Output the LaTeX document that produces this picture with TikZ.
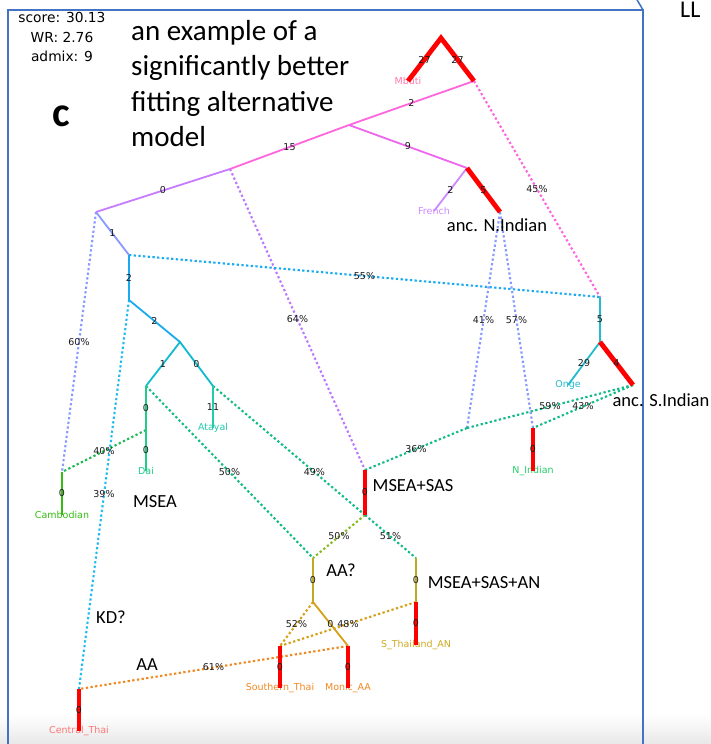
\documentclass[tikz,border=0pt]{standalone}
\usepackage{fontspec}
\usepackage{tikz}
\usetikzlibrary{arrows}
\newfontfamily\lblfont{DejaVu Sans}
\newfontfamily\notefont{Carlito}
\definecolor{cFrame}{HTML}{4472C4}
\definecolor{cPink}{HTML}{FF66DD}
\definecolor{cPurple}{HTML}{C77BFF}
\definecolor{cMagenta}{HTML}{EE66EE}
\definecolor{cFrench}{HTML}{CC88FF}
\definecolor{cLilac}{HTML}{BB77FF}
\definecolor{cPeri}{HTML}{8899FF}
\definecolor{cSky}{HTML}{1AAAF0}
\definecolor{cSkyTwo}{HTML}{22BBEE}
\definecolor{cTeal}{HTML}{11BBCC}
\definecolor{cAtayal}{HTML}{22CCAA}
\definecolor{cDai}{HTML}{22CC88}
\definecolor{cCamb}{HTML}{33BB11}
\definecolor{cGreen}{HTML}{22BB55}
\definecolor{cSea}{HTML}{11BB88}
\definecolor{cLime}{HTML}{88BB22}
\definecolor{cOlive}{HTML}{BBAA22}
\definecolor{cGold}{HTML}{D4A017}
\definecolor{cOrange}{HTML}{EE8822}
\definecolor{cMbuti}{HTML}{FF77AA}
\definecolor{cNIndian}{HTML}{22CC66}
\definecolor{cSThai}{HTML}{CCAA22}
\definecolor{cCentral}{HTML}{FF7777}
\definecolor{cOnge}{HTML}{22BBCC}

\begin{document}
\begin{tikzpicture}[x=1pt,y=-1pt,line join=miter,
                    tree/.style={line width=1.8pt},
                    drift/.style={line width=4.8pt,draw=red},
                    mix/.style={line width=2.1pt,dash pattern=on 2.3pt off 2.4pt}]
  \tikzstyle{num}=[font=\lblfont\fontsize{9.5}{10}\selectfont,text=black!90,inner sep=0pt]
  \tikzstyle{pop}=[font=\lblfont\fontsize{9.5}{10}\selectfont,inner sep=0pt]
  \tikzstyle{note}=[font=\notefont\fontsize{18.5}{22}\selectfont,inner sep=0pt]

  \useasboundingbox (0,0) rectangle (711,744);
  \shade[top color=white,bottom color=black!9] (0,714) rectangle (711,744);
  \draw[cFrame,line width=1.5pt] (8,750) -- (8,10) -- (643,10) -- (643,750);
  \draw[cFrame,line width=1.5pt] (636,-2) -- (643,10);

  \coordinate (R)   at (441,38);
  \coordinate (A)   at (474,81);
  \coordinate (B)   at (349,125);
  \coordinate (P)   at (230,169);
  \coordinate (C)   at (96,212);
  \coordinate (D)   at (467,168);
  \coordinate (NI)  at (500,212);
  \coordinate (E)   at (129,255);
  \coordinate (F)   at (129,300);
  \coordinate (G)   at (180,342);
  \coordinate (H)   at (146,386);
  \coordinate (I)   at (213,386);
  \coordinate (Hm)  at (146,430);
  \coordinate (Cb)  at (62,472);
  \coordinate (S)   at (600,297);
  \coordinate (J)   at (600,342);
  \coordinate (SI)  at (633,385);
  \coordinate (X)   at (467,428);
  \coordinate (NIt) at (533,428);
  \coordinate (MSt) at (365,470);
  \coordinate (MSb) at (365,515);
  \coordinate (AQ)  at (313,558);
  \coordinate (Q)   at (313,602);
  \coordinate (AN)  at (416,558);
  \coordinate (ANm) at (416,602);
  \coordinate (ST)  at (280,646);
  \coordinate (Mo)  at (348,646);
  \coordinate (CT)  at (79,689);

  \node[pop,text=cMbuti]   (mbuti)     at (408,81)  {Mbuti};
  \node[pop,text=cFrench]  (french)    at (434,211) {French};
  \node[pop,text=cAtayal]  (atayal)    at (213,428) {Atayal};
  \node[pop,text=cDai]     (dai)       at (146,471) {Dai};
  \node[pop,text=cCamb]    (cambodian) at (62,515)  {Cambodian};
  \node[pop,text=cOnge]    (onge)      at (568,385) {Onge};
  \node[pop,text=cNIndian] (nindian)   at (533,471) {N\_Indian};
  \node[pop,text=cSThai]   (sthai)     at (416,645) {S\_Thailand\_AN};
  \node[pop,text=cOrange]  (southern)  at (280,688) {Southern\_Thai};
  \node[pop,text=cOrange]  (monic)     at (348,688) {Monic\_AA};
  \node[pop,text=cCentral] (central)   at (79,731)  {Central\_Thai};

  \draw[mix,cPink]   (A)   -- node[num] {45\%} (S);
  \draw[mix,cLilac]  (P)   -- node[num] {64\%} (MSt);
  \draw[mix,cPeri]   (C)   -- node[num] {60\%} (Cb);
  \draw[mix,cSky]    (E)   -- node[num] {55\%} (S);
  \draw[mix,cSkyTwo] (F)   -- node[num] {39\%} (CT);
  \draw[mix,cGreen]  (Hm)  -- node[num] {40\%} (Cb);
  \draw[mix,cSea]    (H)   -- node[num] {50\%} (AQ);
  \draw[mix,cSea]    (I)   -- node[num,pos=0.667] {49\%} (MSb);
  \draw[mix,cPeri]   (NI)  -- node[num] {41\%} (X);
  \draw[mix,cPeri]   (NI)  -- node[num] {57\%} (NIt);
  \draw[mix,cSea]    (SI)  -- node[num] {59\%} (X);
  \draw[mix,cSea]    (SI)  -- node[num] {43\%} (NIt);
  \draw[mix,cSea]    (X)   -- node[num] {36\%} (MSt);
  \draw[mix,cLime]   (MSb) -- node[num] {50\%} (AQ);
  \draw[mix,cSea]    (MSb) -- node[num] {51\%} (AN);
  \draw[mix,cGold]   (Q)   -- node[num] {52\%} (ST);
  \draw[mix,cGold]   (ANm) -- node[num] {48\%} (ST);
  \draw[mix,cOrange] (Mo)  -- node[num] {61\%} (CT);

  \draw[tree,cPink]    (A) -- node[num] {2} (B) -- node[num] {15} (P);
  \draw[tree,cPurple]  (P) -- node[num] {0} (C);
  \draw[tree,cMagenta] (B) -- node[num] {9} (D);
  \draw[tree,cFrench]  (D) -- node[num] {2} (french.center);
  \draw[tree,cPeri]    (C) -- node[num] {1} (E);
  \draw[tree,cSky]     (E) -- node[num] {2} (F) -- node[num] {2} (G);
  \draw[tree,cTeal]    (H) -- node[num] {1} (G) -- node[num] {0} (I);
  \draw[tree,cAtayal]  (I) -- node[num] {11} (atayal.center);
  \draw[tree,cDai]     (H) -- node[num] {0} (Hm) -- node[num] {0} (dai.center);
  \draw[tree,cCamb]    (Cb) -- node[num] {0} (cambodian.center);
  \draw[tree,cOnge]    (S) -- node[num] {5} (J) -- node[num] {29} (onge.center);
  \draw[tree,cOlive]   (AQ) -- node[num] {0} (Q);
  \draw[tree,cOlive]   (AN) -- node[num] {0} (ANm);
  \draw[tree,cGold]    (Q) -- node[num] {0} (Mo);

  \draw[drift] (mbuti.center) -- node[num] {27} (R) -- node[num] {27} (A);
  \draw[drift] (D) -- node[num] {5} (NI);
  \draw[drift] (J) -- node[num] {4} (SI);
  \draw[drift] (NIt) -- node[num] {0} (nindian.center);
  \draw[drift] (MSt) -- node[num] {0} (MSb);
  \draw[drift] (ANm) -- node[num] {0} (sthai.center);
  \draw[drift] (ST) -- node[num] {0} (southern.center);
  \draw[drift] (Mo) -- node[num] {0} (monic.center);
  \draw[drift] (CT) -- node[num] {0} (central.center);

  \node[font=\lblfont\fontsize{13.8}{19.5}\selectfont,align=center,inner sep=0pt]
       (score) at (62,37) {score: 30.13\\WR: 2.76\\admix: 9};
  \node[font=\notefont\fontsize{29}{35.5}\selectfont,align=left,anchor=north west,inner sep=0pt]
       (title) at (131,20) {an example of a\\significantly better\\fitting alternative\\model};
  \node[font=\notefont\bfseries\fontsize{42}{42}\selectfont,inner sep=0pt] (panel) at (61,116) {c};
  \node[font=\notefont\fontsize{24}{24}\selectfont,anchor=base west,inner sep=0pt] (corner) at (680,17) {LL};

  \node[note] (ancN)  at (497,225) {anc. N.Indian};
  \node[note] (ancS)  at (661,400) {anc. S.Indian};
  \node[note] (msas)  at (413,486) {MSEA+SAS};
  \node[note] (msea)  at (155,502) {MSEA};
  \node[note] (kd)    at (111,617) {KD?};
  \node[note] (aa)    at (147,665) {AA};
  \node[note] (aaq)   at (341,570) {AA?};
  \node[note] (msan)  at (484,583) {MSEA+SAS+AN};
\end{tikzpicture}
\end{document}
